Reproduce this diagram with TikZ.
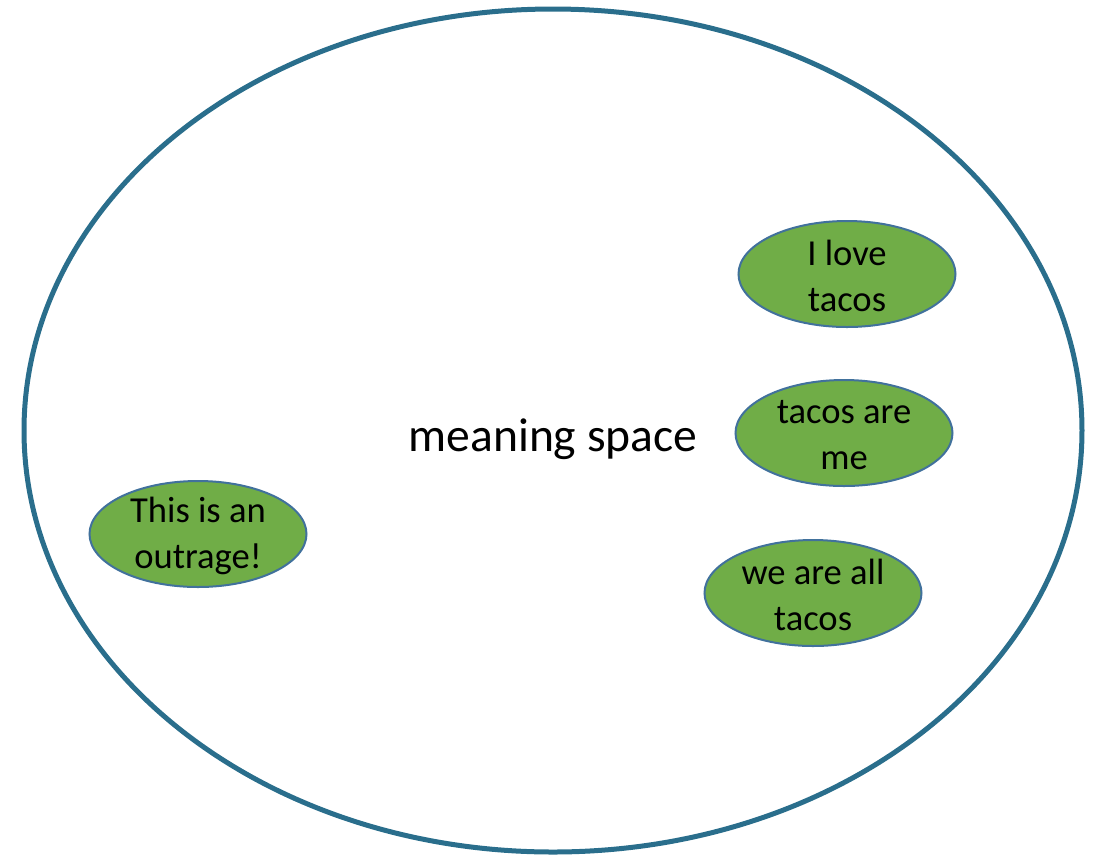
\documentclass[tikz,border=0pt]{standalone}
\usepackage{fontspec}
\setmainfont{Carlito}
\usepackage{tikz}
\usetikzlibrary{shapes.geometric,positioning}
\definecolor{spaceline}{HTML}{2A6E8C}
\definecolor{bubblegreen}{HTML}{70AD47}
\definecolor{bubbleline}{HTML}{41719C}

\tikzset{
  bubble/.style={ellipse, draw=bubbleline, fill=bubblegreen, line width=1pt,
    minimum width=108.5pt, minimum height=53pt, inner sep=0pt},
  bubbletext/.style={align=center, font=\fontsize{18.3}{23}\selectfont, inner sep=0pt, yshift=-1pt}
}

\begin{document}
\begin{tikzpicture}[x=0.5pt,y=-0.5pt]
        \useasboundingbox (0,0) rectangle (1094,859);
        % Draw the meaning space
        \draw[spaceline,line width=2.5pt] (553,430.5) ellipse [x radius=529, y radius=421.5];
        \node[font=\fontsize{23.8}{28}\selectfont,inner sep=0pt] (space) at (553,439) {meaning space};
        % tacos
        \node[bubble] (love) at (847,274) {};
        \node[bubbletext] (lovetext) at (love) {I love\\tacos};
        \node[bubble] (me) at (844,433) {};
        \node[bubbletext] (metext) at (me) {tacos are\\me};
        \node[bubble] (all) at (813,593) {};
        \node[bubbletext] (alltext) at (all) {we are all\\tacos};
        % the odd one out
        \node[bubble] (outrage) at (198,534) {};
        \node[bubbletext] (outragetext) at (outrage) {This is an\\outrage!};
      \end{tikzpicture}
\end{document}
